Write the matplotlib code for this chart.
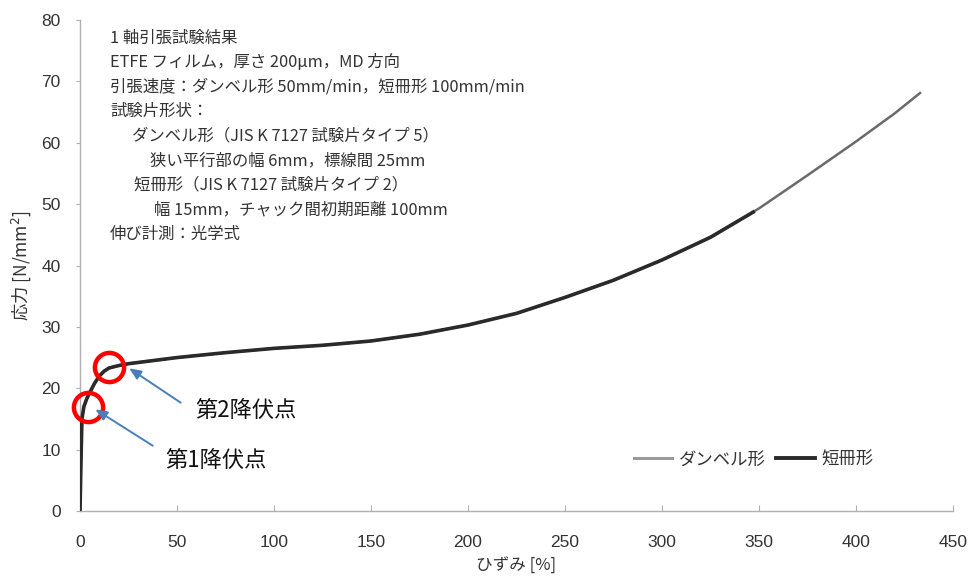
import matplotlib
matplotlib.use("Agg")
import matplotlib.pyplot as plt
from matplotlib.lines import Line2D

plt.rcParams['font.family'] = ['Noto Sans CJK JP', 'DejaVu Sans']

# ---- data ----
dumbbell_strain = [0, 0.5, 1, 2, 3.5, 5, 7.5, 10, 12.5, 15, 20, 25, 37.5, 50, 75, 100,
                   125, 150, 175, 200, 225, 250, 275, 300, 325, 350, 375, 400, 420, 433]
dumbbell_stress = [0, 8, 15, 17.0, 18.3, 19.3, 20.8, 22.0, 22.8, 23.3, 23.7, 24.0, 24.5, 25.0,
                   25.8, 26.5, 27.0, 27.7, 28.8, 30.3, 32.2, 34.8, 37.6, 40.9, 44.6, 49.3,
                   54.7, 60.2, 64.8, 68.1]

strip_strain = [0, 0.5, 1, 2, 3.5, 5, 7.5, 10, 12.5, 15, 20, 25, 37.5, 50, 75, 100,
                125, 150, 175, 200, 225, 250, 275, 300, 325, 347]
strip_stress = [0, 8, 15, 17.0, 18.3, 19.3, 20.8, 22.0, 22.8, 23.3, 23.7, 24.0, 24.5, 25.0,
                25.8, 26.5, 27.0, 27.7, 28.8, 30.3, 32.2, 34.8, 37.6, 40.9, 44.6, 48.7]

yield_points_x = [4.1, 15.0]
yield_points_y = [17.0, 23.4]
yield_labels = ['第1降伏点', '第2降伏点']
arrow_tips = [(6.7, 16.8), (24.2, 23.5)]
arrow_tails = [(38.7, 10.4), (53.1, 17.4)]
label_pos = [(43.8, 8.3), (59.3, 16.3)]

series_labels = ['ダンベル形', '短冊形']
x_ticks = [0, 50, 100, 150, 200, 250, 300, 350, 400, 450]
y_ticks = [0, 10, 20, 30, 40, 50, 60, 70, 80]

info_lines = [
    ('1 軸引張試験結果', 0),
    ('ETFE フィルム，厚さ 200μm，MD 方向', 0),
    ('引張速度：ダンベル形 50mm/min，短冊形 100mm/min', 0),
    ('試験片形状：', 0),
    ('ダンベル形（JIS K 7127 試験片タイプ 5）', 22),
    ('狭い平行部の幅 6mm，標線間 25mm', 40),
    ('短冊形（JIS K 7127 試験片タイプ 2）', 24),
    ('幅 15mm，チャック間初期距離 100mm', 44),
    ('伸び計測：光学式', 0),
]

# ---- figure ----
fig = plt.figure(figsize=(9.7, 5.82), dpi=100)
ax = fig.add_axes([80/970, 1-511/582, 873/970, 491/582])

ax.plot(dumbbell_strain, dumbbell_stress, color='#6a6a6a', lw=1.8,
        label=series_labels[0], zorder=3)
ax.plot(strip_strain, strip_stress, color='#2a2a2a', lw=2.6,
        label=series_labels[1], zorder=4)

ax.set_xlim(0, 450)
ax.set_ylim(0, 80)
ax.set_xticks(x_ticks)
ax.set_yticks(y_ticks)

for s in ['top', 'right']:
    ax.spines[s].set_visible(False)
for s in ['left', 'bottom']:
    ax.spines[s].set_color('#b0b0b0')
    ax.spines[s].set_linewidth(1.0)
ax.tick_params(axis='x', direction='in', length=4, color='#b0b0b0', pad=17,
               labelsize=12.5, labelcolor='#333333')
ax.tick_params(axis='y', direction='out', length=3, color='#b0b0b0', pad=11,
               labelsize=12.5, labelcolor='#333333')
for lab in ax.get_xticklabels() + ax.get_yticklabels():
    lab.set_family(['Liberation Sans', 'DejaVu Sans'])

ax.set_xlabel('ひずみ [%]', fontsize=12, color='#333333', labelpad=5)
ax.set_ylabel('応力 [N/mm$^2$]', fontsize=12.5, color='#333333', labelpad=6)

# info block
for i, (txt, ind) in enumerate(info_lines):
    fig.text((110 + ind)/970, 1 - (38 + i*24.5)/582, txt, fontsize=11.8,
             color='#333333', va='center', ha='left')

# yield circles
ax.plot(yield_points_x, yield_points_y, 'o', ms=21, mfc='none', mec='#ff0000', mew=3.2,
        zorder=6, clip_on=False)

for tip, tail, pos, lab in zip(arrow_tips, arrow_tails, label_pos, yield_labels):
    ax.annotate('', xy=tip, xytext=tail,
                arrowprops=dict(arrowstyle='-|>,head_length=0.7,head_width=0.3',
                                color='#4a7ebb', lw=1.4), zorder=7)
    ax.text(pos[0], pos[1], lab, fontsize=16, color='#111111', va='center', ha='left')

handles = [Line2D([], [], color='#9a9a9a', lw=2.2), Line2D([], [], color='#2a2a2a', lw=2.8)]
leg = ax.legend(handles, series_labels, loc='lower right', bbox_to_anchor=(0.927, 0.055),
                ncol=2, frameon=False, fontsize=12.5, handlelength=2.2,
                columnspacing=0.6, handletextpad=0.4)
for t in leg.get_texts():
    t.set_color('#333333')

fig.savefig('out.png', dpi=100)
